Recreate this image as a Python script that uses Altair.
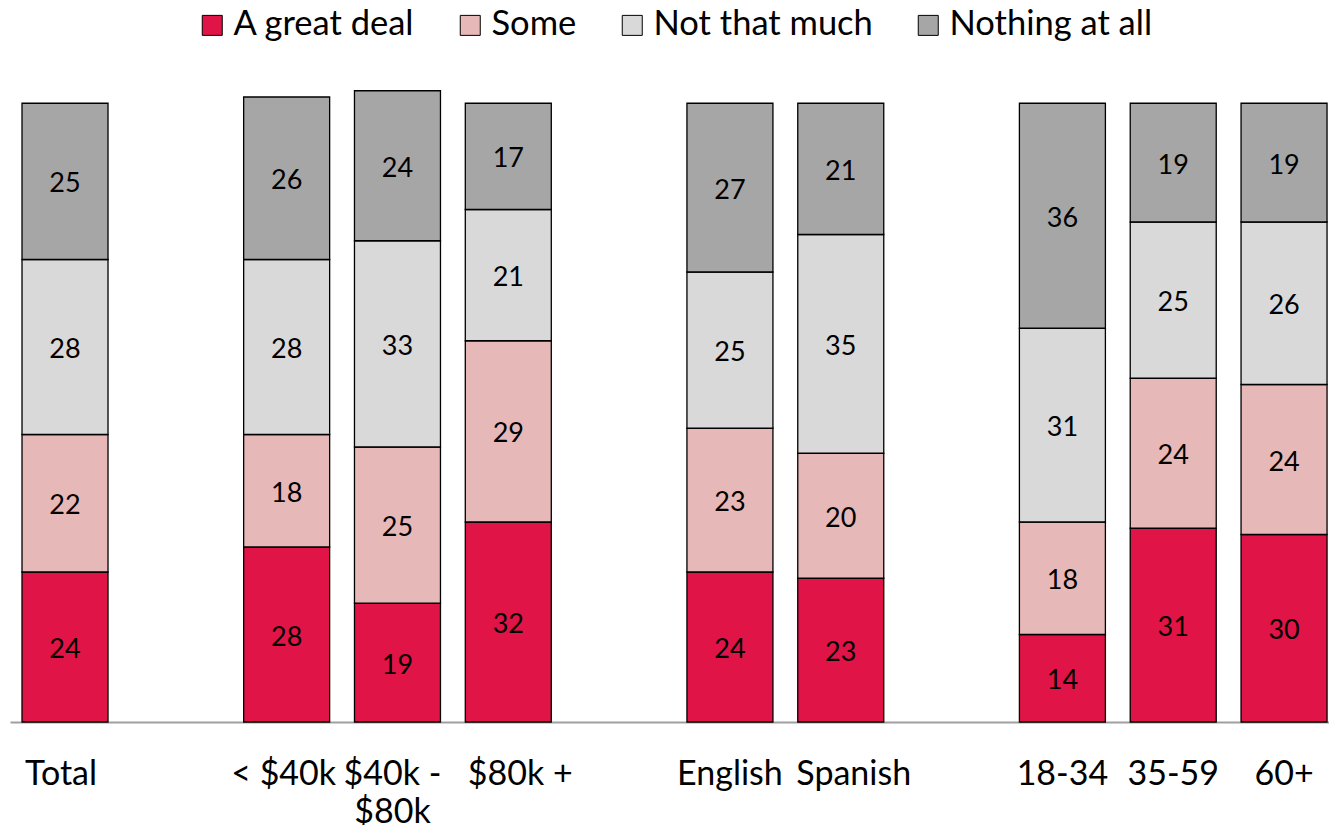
import altair as alt
import pandas as pd

categories = ["Total", " ", "< $40k", "$40k - $80k", "$80k +", "  ",
              "English", "Spanish", "   ", "18-34", "35-59", "60+"]
groups = ["Total", "< $40k", "$40k - $80k", "$80k +", "English", "Spanish",
          "18-34", "35-59", "60+"]
responses = ["A great deal", "Some", "Not that much", "Nothing at all"]
colors = ["#E01446", "#E6B8B7", "#D9D9D9", "#A6A6A6"]

great_deal = [24, 28, 19, 32, 24, 23, 14, 31, 30]
some = [22, 18, 25, 29, 23, 20, 18, 24, 24]
not_much = [28, 28, 33, 21, 25, 35, 31, 25, 26]
nothing = [25, 26, 24, 17, 27, 21, 36, 19, 19]

rows = []
for i, g in enumerate(groups):
    for k, (r, vals) in enumerate(zip(responses, [great_deal, some, not_much, nothing])):
        rows.append({"group": g, "response": r, "ord": k, "value": vals[i]})
df = pd.DataFrame(rows)

FONT = "Lato"

xscale = alt.Scale(domain=categories, paddingInner=0.224, paddingOuter=0.063, align=0.86)

xenc = alt.X(
    "group:N",
    scale=xscale,
    axis=alt.Axis(
        title=None, ticks=False, domainColor="#A0A0A0", domainWidth=2,
        labelFont=FONT, labelFontSize=34, labelColor="black", labelAngle=0,
        labelPadding=35, labelLineHeight=38, labelBaseline="top",
        labelExpr="datum.value == '$40k - $80k' ? ['$40k -', '$80k'] : datum.label",
        labelOffset={
            "condition": {"test": "datum.value == 'Total'", "value": -4},
            "expr": "datum.value == 'Spanish' ? 13 : (datum.value == '$80k +' ? 12 : (datum.value == '$40k - $80k' ? -5 : (datum.value == '< $40k' ? -3 : 0)))",
        },
        labelLimit=0,
    ),
)

base = alt.Chart(df).transform_stack(
    stack="value", groupby=["group"], as_=["y0", "y1"],
    sort=[alt.SortField("ord", order="ascending")],
).transform_calculate(mid="(datum.y0 + datum.y1) / 2")

yscale = alt.Scale(domain=[0, 100], nice=False, zero=True)

bars = base.mark_bar(stroke="black", strokeWidth=1.3, opacity=1).encode(
    x=xenc,
    y=alt.Y("y0:Q", scale=yscale, axis=None),
    y2="y1:Q",
    color=alt.Color(
        "response:N",
        scale=alt.Scale(domain=responses, range=colors),
        legend=alt.Legend(
            title=None, orient="none", direction="horizontal",
            legendX=185, legendY=-89,
            symbolType="square", symbolSize=400, symbolStrokeColor="black",
            symbolStrokeWidth=1, symbolOpacity=1,
            labelFont=FONT, labelFontSize=34.5, labelColor="black",
            labelOffset=4, labelLimit=0, columnPadding=38,
        ),
    ),
)

text = base.mark_text(font=FONT, fontSize=27, color="black", dy=3).encode(
    x=alt.X("group:N", scale=xscale),
    y=alt.Y("mid:Q", scale=yscale),
    text="value:Q",
)

chart = alt.layer(bars, text).properties(
    width=1319, height=625,
    autosize=alt.AutoSizeParams(type="none"),
    padding={"left": 2, "top": 89, "right": 0, "bottom": 103},
).configure_view(stroke=None)

chart.save("out.html", embed_options={"renderer": "svg", "actions": False})
